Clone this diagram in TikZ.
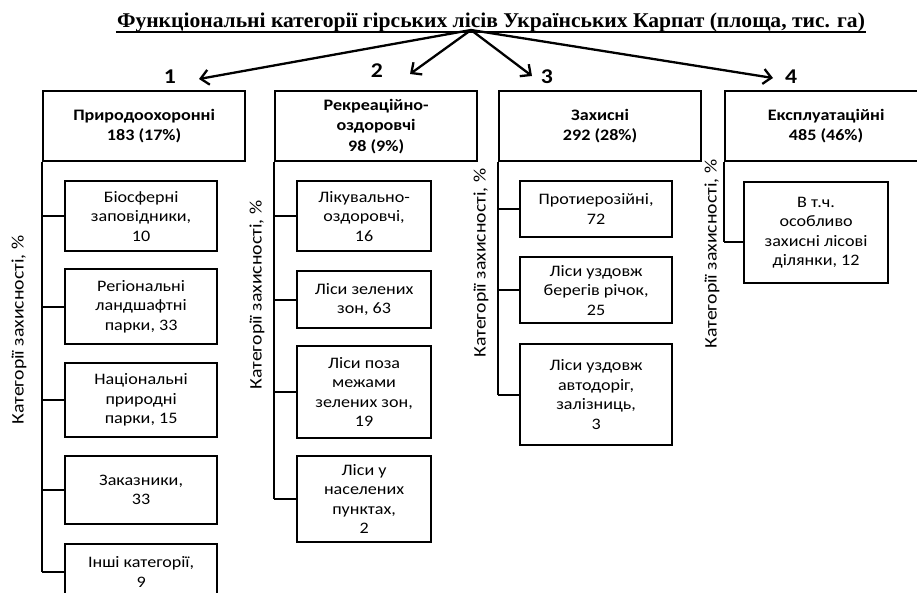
\documentclass[tikz,border=0pt]{standalone}
\usepackage{fontspec}
\setmainfont{Carlito}[FakeStretch=1.13]
\newfontfamily\titlefont{Liberation Serif}
\usetikzlibrary{arrows.meta}
\begin{document}
\begin{tikzpicture}[x=1pt,y=-1pt,line width=2.2pt,
  hdr/.style={draw, anchor=north west, minimum width=202pt, minimum height=70pt, inner sep=0pt, align=center, font=\fontsize{16}{20.5}\selectfont\bfseries},
  sub/.style={draw, anchor=north west, inner sep=0pt, align=center, font=\fontsize{16}{19.5}\selectfont},
  vlab/.style={rotate=90, font=\fontsize{17.5}{20}\selectfont, inner sep=0pt},
  num/.style={font=\fontsize{21}{24}\selectfont\bfseries, inner sep=0pt},
  arr/.style={-{Straight Barb[length=8pt,width=15pt]}, line width=2.3pt},
  link/.style={line width=2.2pt}]
\useasboundingbox (0,0) rectangle (917,592);
\node[inner sep=0pt, anchor=base] (title) at (491,27) {\resizebox{748pt}{\height}{\titlefont\bfseries\fontsize{21}{23}\selectfont Функціональні категорії гірських лісів Українських Карпат (площа, тис. га)}};
\draw[line width=1.5pt] ([yshift=-5pt]title.base west) -- ([yshift=-5pt]title.base east);
\coordinate (o) at (471,30);
\coordinate (t1) at (199,79);
\coordinate (t2) at (410,74);
\coordinate (t3) at (532,76);
\coordinate (t4) at (773,78);
\node[num] (n1) at (170,77) {1};
\node[num] (n2) at (377,71) {2};
\node[num] (n3) at (547,77) {3};
\node[num] (n4) at (791,77) {4};
\draw[arr] (o) -- (t1);
\draw[arr] (o) -- (t2);
\draw[arr] (o) -- (t3);
\draw[arr] (o) -- (t4);
% headers
\node[hdr] (h1) at (42,90) {Природоохоронні\\183 (17\%)};
\node[hdr] (h2) at (274,90) {Рекреаційно-\\оздоровчі\\98 (9\%)};
\node[hdr] (h3) at (498,90) {Захисні\\292 (28\%)};
\node[hdr] (h4) at (724,90) {Експлуатаційні\\485 (46\%)};
% column 1
\node[sub, minimum width=152pt, minimum height=70pt] (s11) at (64,180) {Біосферні\\заповідники,\\10};
\node[sub, minimum width=152pt, minimum height=75pt] (s12) at (64,268) {Регіональні\\ландшафтні\\парки, 33};
\node[sub, minimum width=152pt, minimum height=74pt] (s13) at (64,362) {Національні\\природні\\парки, 15};
\node[sub, minimum width=152pt, minimum height=68pt] (s14) at (64,455) {Заказники,\\33};
\node[sub, minimum width=152pt, minimum height=56pt] (s15) at (64,543) {Інші категорії,\\9};
% column 2
\node[sub, minimum width=134pt, minimum height=70pt] (s21) at (296,180) {Лікувально-\\оздоровчі,\\16};
\node[sub, minimum width=134pt, minimum height=57pt] (s22) at (296,270) {Ліси зелених\\зон, 63};
\node[sub, minimum width=134pt, minimum height=92pt] (s23) at (296,345) {Ліси поза\\межами\\зелених зон,\\19};
\node[sub, minimum width=134pt, minimum height=86pt] (s24) at (296,455) {Ліси у\\населених\\пунктах,\\2};
% column 3
\node[sub, minimum width=152pt, minimum height=56pt] (s31) at (519,180) {Протиерозійні,\\72};
\node[sub, minimum width=152pt, minimum height=66pt] (s32) at (519,256) {Ліси уздовж\\берегів річок,\\25};
\node[sub, minimum width=152pt, minimum height=101pt] (s33) at (519,343) {Ліси уздовж\\автодоріг,\\залізниць,\\3};
% column 4
\node[sub, minimum width=144pt, minimum height=101pt] (s41) at (743,181) {В т.ч.\\особливо\\захисні лісові\\ділянки, 12};
\coordinate (b41) at ([yshift=-9pt]s41.west);
% vertical labels
\node[vlab] (l1) at (19,330) {Категорії захисності, \%};
\node[vlab] (l2) at (257,295) {Категорії захисності, \%};
\node[vlab] (l3) at (481,263) {Категорії захисності, \%};
\node[vlab] (l4) at (712,254) {Категорії захисності, \%};
% spines
\draw[link] (h1.south west) -- (h1.south west |- s15.west);
\foreach \s in {s11,s12,s13,s14,s15} \draw[link] (h1.south west |- \s.west) -- (\s.west);
\draw[link] (h2.south west) -- (h2.south west |- s24.west);
\foreach \s in {s21,s22,s23,s24} \draw[link] (h2.south west |- \s.west) -- (\s.west);
\draw[link] (h3.south west) -- (h3.south west |- s33.west);
\foreach \s in {s31,s32,s33} \draw[link] (h3.south west |- \s.west) -- (\s.west);
\draw[link] (h4.south west) -- (h4.south west |- b41);
\draw[link] (h4.south west |- b41) -- (b41);
\end{tikzpicture}
\end{document}
